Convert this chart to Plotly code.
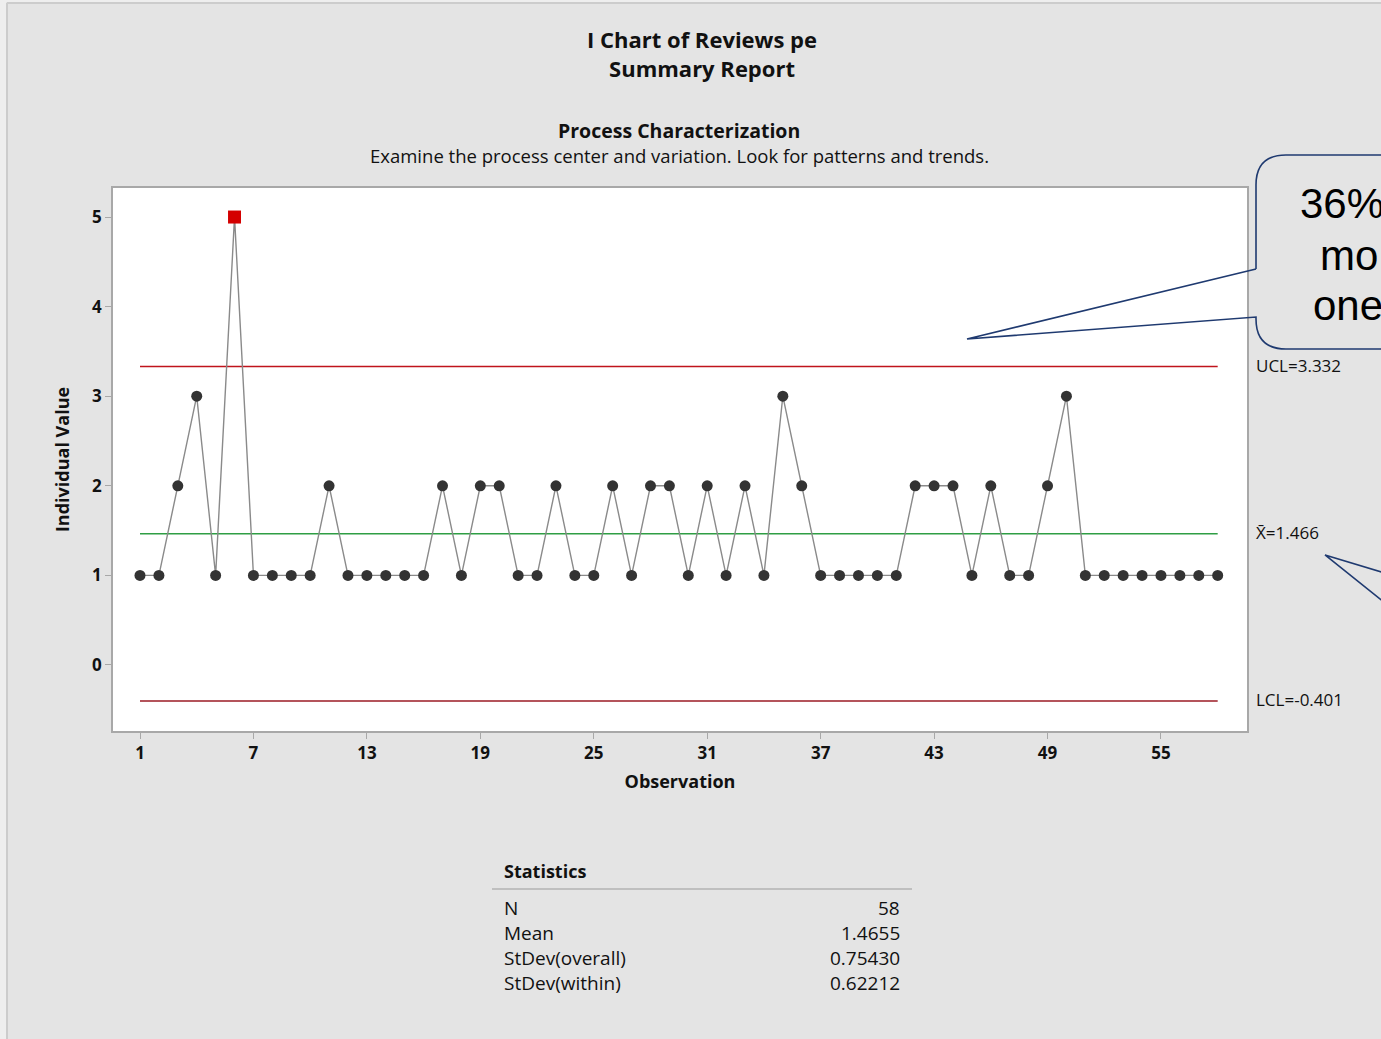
import plotly.graph_objects as go

# ---------------- data ----------------
observations = list(range(1, 59))
values = [1, 1, 2, 3, 1, 5, 1, 1, 1, 1,
          2, 1, 1, 1, 1, 1, 2, 1, 2, 2,
          1, 1, 2, 1, 1, 2, 1, 2, 2, 1,
          2, 1, 2, 1, 3, 2, 1, 1, 1, 1,
          1, 2, 2, 2, 1, 2, 1, 1, 2, 3,
          1, 1, 1, 1, 1, 1, 1, 1]
ucl = 3.332
center = 1.466
lcl = -0.401
x_ticks = [1, 7, 13, 19, 25, 31, 37, 43, 49, 55]
y_ticks = [0, 1, 2, 3, 4, 5]
stat_names = ["N", "Mean", "StDev(overall)", "StDev(within)"]
stat_values = ["58", "1.4655", "0.75430", "0.62212"]
callout_lines = ["36%", "mo", "one"]

W, H = 1381, 1039
L, R, T, B = 113, 1247, 188, 731
FONT = "Open Sans, Noto Sans, DejaVu Sans, sans-serif"
BG = "#e4e4e4"


def fx(p):
    return (p - L) / (R - L)


def fy(p):
    return (B - p) / (B - T)


fig = go.Figure()

# control lines
for val, col in [(ucl, "#c0141c"), (center, "#2f9e44"), (lcl, "#9b1b24")]:
    fig.add_trace(go.Scatter(x=[observations[0], observations[-1]], y=[val, val],
                             mode="lines", line=dict(color=col, width=1.5),
                             hoverinfo="skip", showlegend=False))

# data line + markers
out_x = [o for o, v in zip(observations, values) if v > ucl or v < lcl]
out_y = [v for v in values if v > ucl or v < lcl]
in_x = [o for o, v in zip(observations, values) if lcl <= v <= ucl]
in_y = [v for v in values if lcl <= v <= ucl]
fig.add_trace(go.Scatter(x=observations, y=values, mode="lines",
                         line=dict(color="#8a8a8a", width=1.4), showlegend=False))
fig.add_trace(go.Scatter(x=in_x, y=in_y, mode="markers",
                         marker=dict(color="#333333", size=11, symbol="circle"),
                         showlegend=False))
fig.add_trace(go.Scatter(x=out_x, y=out_y, mode="markers",
                         marker=dict(color="#d40000", size=13, symbol="square"),
                         showlegend=False))

annotations = []
# titles
annotations.append(dict(text="<b>I Chart of Reviews pe</b><br><b>Summary Report</b>", x=fx(702), y=fy(53),
                        xref="paper", yref="paper",
                        showarrow=False, font=dict(size=22, color="#111111", family=FONT),
                        xanchor="center", yanchor="middle", align="center"))
annotations.append(dict(text="<b>Process Characterization</b>", x=fx(679), y=fy(130), xref="paper", yref="paper",
                        showarrow=False, font=dict(size=19.5, color="#111111", family=FONT), xanchor="center", yanchor="middle"))
annotations.append(dict(text="Examine the process center and variation. Look for patterns and trends.",
                        x=fx(679), y=fy(156), xref="paper", yref="paper",
                        showarrow=False, font=dict(size=18.5, color="#111111", family=FONT), xanchor="center", yanchor="middle"))

# control line labels
for txt, val in [("UCL=3.332", ucl), ("X̄=1.466", center), ("LCL=-0.401", lcl)]:
    annotations.append(dict(text=txt, x=fx(1254), y=val, xref="paper", yref="y",
                            showarrow=False, xanchor="left", yanchor="middle", yshift=1,
                            font=dict(size=17, color="#111111", family=FONT)))

# callout text
for txt, xp, yp in zip(callout_lines, [1298, 1318, 1311], [203, 255, 305]):
    annotations.append(dict(text=txt, x=fx(xp), y=fy(yp), xref="paper", yref="paper",
                            showarrow=False, xanchor="left", yanchor="middle",
                            font=dict(size=42, color="#000000", family="Liberation Sans, Arial, sans-serif")))

# statistics table
annotations.append(dict(text="<b>Statistics</b>", x=fx(502), y=fy(871), xref="paper", yref="paper",
                        showarrow=False, xanchor="left", yanchor="middle",
                        font=dict(size=18, color="#111111", family=FONT)))
for i, (n, v) in enumerate(zip(stat_names, stat_values)):
    yy = 908 + i * 25
    annotations.append(dict(text=n, x=fx(502), y=fy(yy), xref="paper", yref="paper",
                            showarrow=False, xanchor="left", yanchor="middle",
                            font=dict(size=19, color="#111111", family=FONT)))
    annotations.append(dict(text=v, x=fx(902), y=fy(yy), xref="paper", yref="paper",
                            showarrow=False, xanchor="right", yanchor="middle",
                            font=dict(size=19, color="#111111", family=FONT)))

shapes = []
# page frame
shapes.append(dict(type="rect", xref="paper", yref="paper", x0=fx(-5), x1=fx(6), y0=fy(1100), y1=fy(-5),
                   fillcolor="#eeeeee", line=dict(width=0), layer="below"))
shapes.append(dict(type="rect", xref="paper", yref="paper", x0=fx(-5), x1=fx(1400), y0=fy(2), y1=fy(-5),
                   fillcolor="#eeeeee", line=dict(width=0), layer="below"))
shapes.append(dict(type="line", xref="paper", yref="paper", x0=fx(7), x1=fx(7), y0=fy(1100), y1=fy(3),
                   line=dict(color="#cccccc", width=2)))
shapes.append(dict(type="line", xref="paper", yref="paper", x0=fx(7), x1=fx(1400), y0=fy(3), y1=fy(3),
                   line=dict(color="#cccccc", width=2)))
# stats separator
shapes.append(dict(type="line", xref="paper", yref="paper", x0=fx(492), x1=fx(912), y0=fy(889), y1=fy(889),
                   line=dict(color="#9a9a9a", width=1.2)))


def P(x, y):
    return f"{fx(x):.5f},{fy(y):.5f}"


r = 30
callout = (f"M {P(1256, 269)} L {P(1256, 155 + r)} Q {P(1256, 155)} {P(1256 + r, 155)} L {P(1420, 155)} "
           f"M {P(1256, 269)} L {P(967, 339)} L {P(1256, 317)} L {P(1256, 349 - r)} "
           f"Q {P(1256, 349)} {P(1256 + r, 349)} L {P(1420, 349)}")
shapes.append(dict(type="path", xref="paper", yref="paper", path=callout,
                   line=dict(color="#1f3a70", width=1.6)))
pointer2 = f"M {P(1395, 576)} L {P(1325, 555)} L {P(1395, 611)}"
shapes.append(dict(type="path", xref="paper", yref="paper", path=pointer2,
                   line=dict(color="#1f3a70", width=1.6)))

fig.update_layout(
    width=W, height=H,
    margin=dict(l=L, r=W - R, t=T, b=H - B, pad=0),
    paper_bgcolor=BG, plot_bgcolor="#ffffff",
    showlegend=False,
    annotations=annotations,
    shapes=shapes,
    font=dict(family=FONT, color="#111111"),
    xaxis=dict(range=[-0.428, 59.55], tickvals=x_ticks, ticktext=[f"<b>{t}</b>" for t in x_ticks],
               showgrid=False, zeroline=False, showline=True, mirror=True, linecolor="#a8a8a8", linewidth=1.5,
               ticks="outside", ticklen=6, tickcolor="#a8a8a8", tickfont=dict(size=17, color="#111111", family=FONT),
               title=dict(text="<b>Observation</b>", font=dict(size=18, color="#111111", family=FONT), standoff=12)),
    yaxis=dict(range=[-0.737, 5.324], tickvals=y_ticks, ticktext=[f"<b>{t}</b>" for t in y_ticks],
               showgrid=False, zeroline=False, showline=True, mirror=True, linecolor="#a8a8a8", linewidth=1.5,
               ticks="outside", ticklen=6, tickcolor="#a8a8a8", tickfont=dict(size=17, color="#111111", family=FONT),
               title=dict(text="<b>Individual Value</b>", font=dict(size=18, color="#111111", family=FONT), standoff=18)),
)

fig.write_html("out.html", config={"displayModeBar": False},
               post_script="document.body.style.margin='0';document.body.style.overflow='hidden';")
